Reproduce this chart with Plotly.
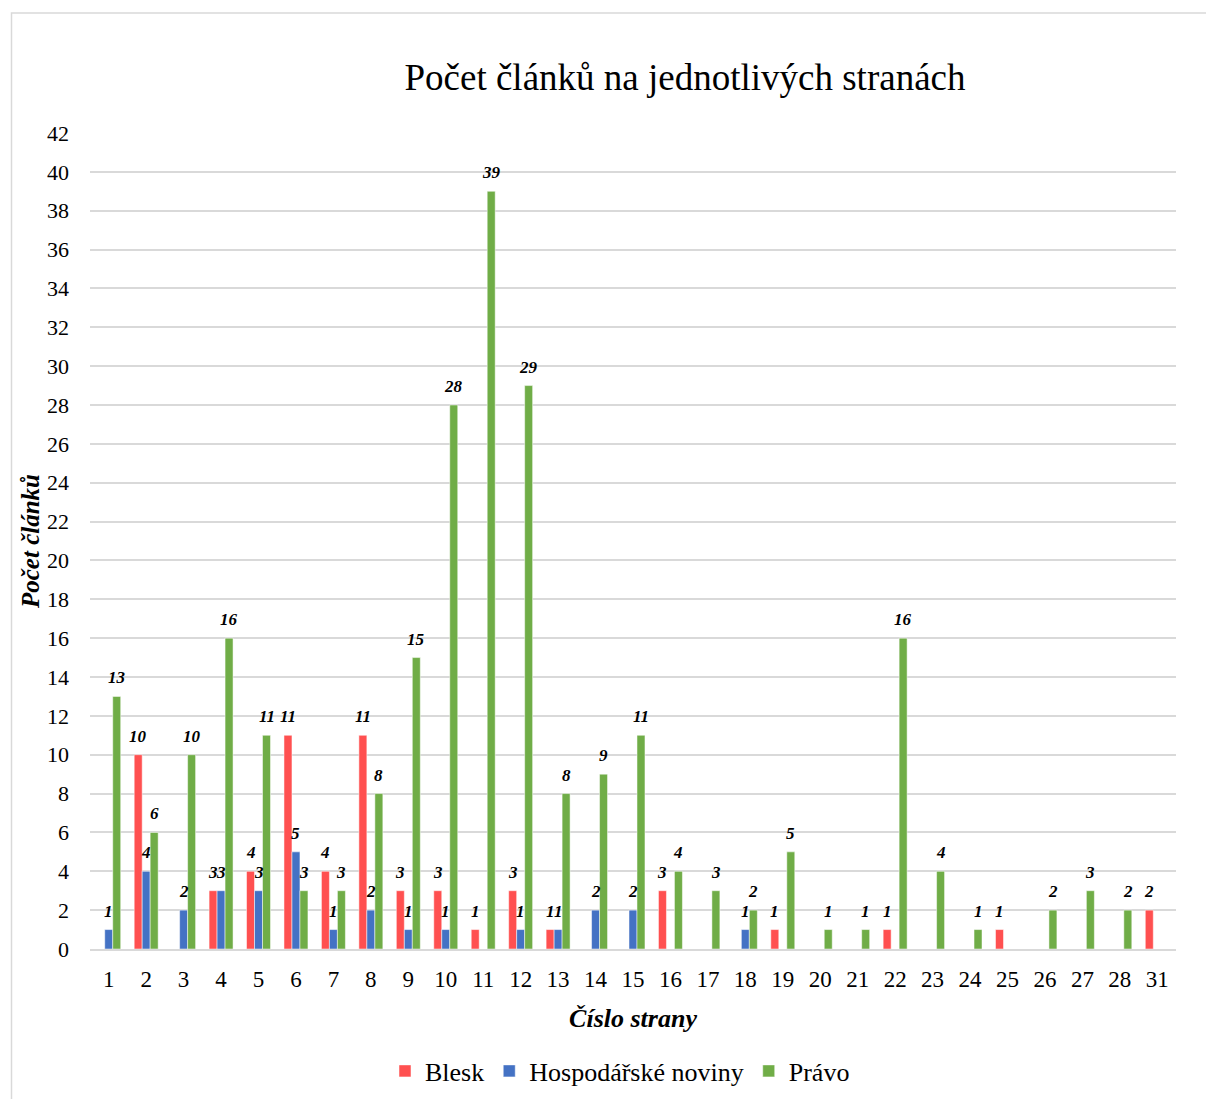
"""
Počet článků na jednotlivých stranách — sloupcový graf podle periodika.
"""

import plotly.graph_objects as go

# Čísla stran (kategorie osy x)
strany = ["1", "2", "3", "4", "5", "6", "7", "8", "9", "10", "11", "12", "13", "14", "15",
          "16", "17", "18", "19", "20", "21", "22", "23", "24", "25", "26", "27", "28", "31"]

# Počty článků; None = periodikum na dané straně nemá článek
blesk = [None, 10, None, 3, 4, 11, 4, 11, 3, 3, 1, 3, 1, None, None,
         3, None, None, 1, None, None, 1, None, None, 1, None, None, None, 2]
hospodarske = [1, 4, 2, 3, 3, 5, 1, 2, 1, 1, None, 1, 1, 2, 2,
               None, None, 1, None, None, None, None, None, None, None, None, None, None, None]
pravo = [13, 6, 10, 16, 11, 3, 3, 8, 15, 28, 39, 29, 8, 9, 11,
         4, 3, 2, 5, 1, 1, 16, 4, 1, None, 2, 3, 2, None]

y_ticks = list(range(0, 43, 2))

FONT = "Liberation Serif, Times New Roman, serif"

serie = [
    ("Blesk", blesk, "#FF5050", -8),
    ("Hospodářské noviny", hospodarske, "#4472C4", 0),
    ("Právo", pravo, "#70AD47", 8),
]

fig = go.Figure()

for nazev, hodnoty, barva, posun in serie:
    fig.add_trace(go.Bar(
        x=strany,
        y=hodnoty,
        name=nazev,
        marker={"color": barva, "line": {"color": "white", "width": 0.5}},
    ))
    # Popisky hodnot nad sloupci (x jako index kategorie)
    for i, v in enumerate(hodnoty):
        if v is None:
            continue
        fig.add_annotation(
            x=i, y=v,
            text=f"<b><i>{v}</i></b>",
            showarrow=False,
            xanchor="center", yanchor="bottom",
            xshift=posun, yshift=7,
            font={"family": FONT, "size": 17, "color": "black"},
        )

# Rámeček kolem grafu (pravá a spodní hrana jsou mimo obrázek)
fig.add_shape(
    type="rect", xref="paper", yref="paper",
    x0=(11.5 - 90) / 1086, x1=(1240 - 90) / 1086,
    y0=(949 - 1140) / 816, y1=(949 - 13) / 816,
    line={"color": "#d9d9d9", "width": 1.5},
)

fig.update_layout(
    width=1206,
    height=1099,
    margin={"l": 90, "r": 30, "t": 133, "b": 150, "autoexpand": False},
    paper_bgcolor="white",
    plot_bgcolor="white",
    font={"family": FONT, "color": "black"},
    title={
        "text": "Počet článků na jednotlivých stranách",
        "font": {"family": FONT, "size": 37, "color": "black"},
        "x": 685 / 1206, "xanchor": "center",
        "y": 1 - 77 / 1099, "yanchor": "middle",
    },
    barmode="group",
    bargap=0.36,
    bargroupgap=0.0,
    showlegend=True,
    legend={
        "orientation": "h",
        "x": (620 - 90) / 1086, "xanchor": "center",
        "y": (949 - 1071) / 816, "yanchor": "middle",
        "font": {"family": FONT, "size": 26, "color": "black"},
        "itemwidth": 30,
    },
    xaxis={
        "type": "category",
        "automargin": False,
        "range": [-0.5, len(strany) - 0.5],
        "tickfont": {"family": FONT, "size": 23, "color": "black"},
        "showgrid": False,
        "showline": True,
        "linecolor": "#d9d9d9",
        "linewidth": 1.5,
        "ticks": "",
        "ticklabelstandoff": 9,
        "title": {
            "text": "<b><i>Číslo strany</i></b>",
            "font": {"family": FONT, "size": 26, "color": "black"},
            "standoff": 17,
        },
    },
    yaxis={
        "automargin": False,
        "range": [0, 42],
        "tickvals": y_ticks,
        "tickfont": {"family": FONT, "size": 22, "color": "black"},
        "showgrid": True,
        "gridcolor": "#d9d9d9",
        "gridwidth": 1.5,
        "zeroline": False,
        "ticks": "",
        "ticklabelstandoff": 20,
        "title": {
            "text": "<b><i>Počet článků</i></b>",
            "font": {"family": FONT, "size": 25, "color": "black"},
            "standoff": 0,
        },
    },
)

fig.write_html(
    "out.html",
    config={"displayModeBar": False},
    post_script="document.body.style.margin='0';",
)
